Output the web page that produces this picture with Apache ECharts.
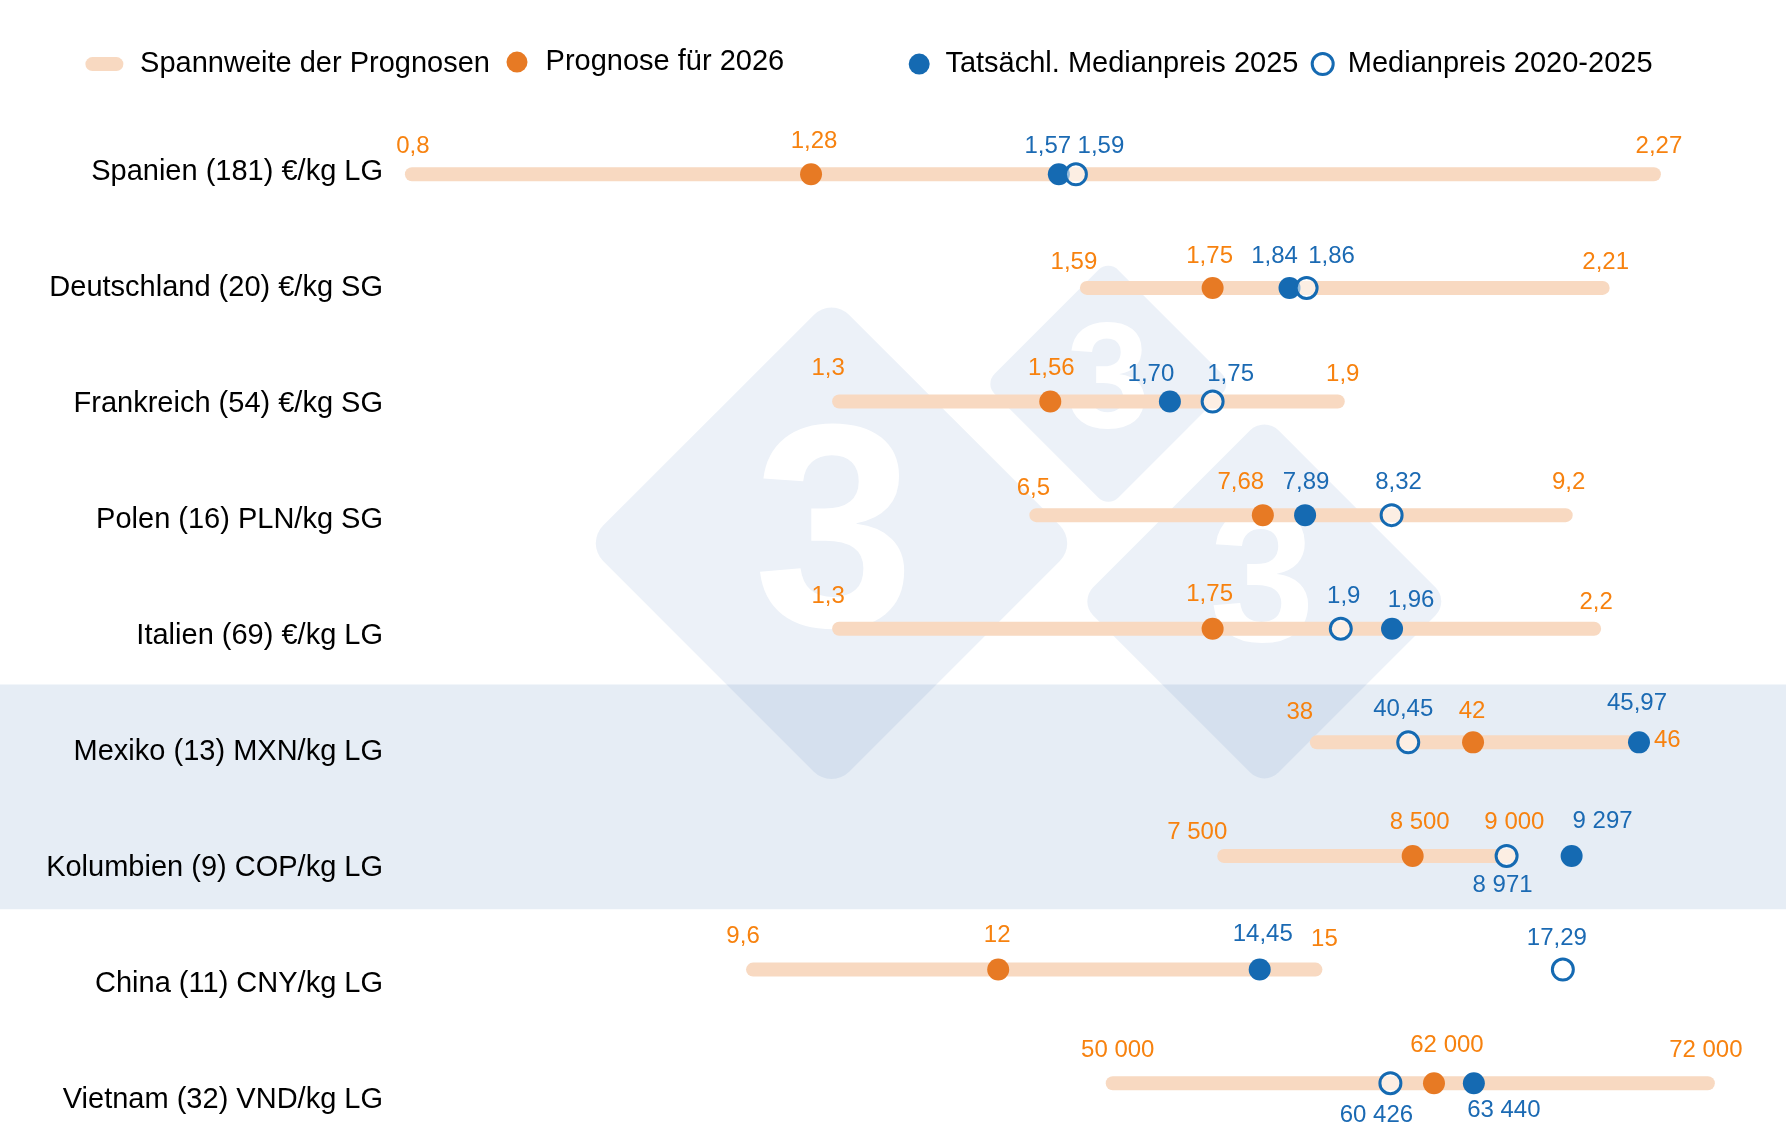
<!DOCTYPE html>
<html>
<head>
<meta charset="utf-8">
<script src="https://cdn.jsdelivr.net/npm/echarts@6/dist/echarts.min.js"></script>
<style>
  html, body { margin: 0; padding: 0; background: #fff; }
  #chart { width: 1786px; height: 1141px; }
</style>
</head>
<body>
<div id="chart"></div>
<script>
// rows (top to bottom)
var rowNames = [
    'Spanien (181) €/kg LG',
    'Deutschland (20) €/kg SG',
    'Frankreich (54) €/kg SG',
    'Polen (16) PLN/kg SG',
    'Italien (69) €/kg LG',
    'Mexiko (13) MXN/kg LG',
    'Kolumbien (9) COP/kg LG',
    'China (11) CNY/kg LG',
    'Vietnam (32) VND/kg LG'
];

// values in local currency
var rangeLow      = [0.8, 1.59, 1.3, 6.5, 1.3, 38, 7500, 9.6, 50000];
var rangeHigh     = [2.27, 2.21, 1.9, 9.2, 2.2, 46, 9000, 15, 72000];
var forecast2026  = [1.28, 1.75, 1.56, 7.68, 1.75, 42, 8500, 12, 62000];
var actual2025    = [1.57, 1.84, 1.70, 7.89, 1.96, 45.97, 9297, 14.45, 63440];
var median2020_25 = [1.59, 1.86, 1.75, 8.32, 1.9, 40.45, 8971, 17.29, 60426];

// printed labels
var rangeLowText  = ['0,8', '1,59', '1,3', '6,5', '1,3', '38', '7 500', '9,6', '50 000'];
var rangeHighText = ['2,27', '2,21', '1,9', '9,2', '2,2', '46', '9 000', '15', '72 000'];
var forecastText  = ['1,28', '1,75', '1,56', '7,68', '1,75', '42', '8 500', '12', '62 000'];
var actualText    = ['1,57', '1,84', '1,70', '7,89', '1,96', '45,97', '9 297', '14,45', '63 440'];
var medianText    = ['1,59', '1,86', '1,75', '8,32', '1,9', '40,45', '8 971', '17,29', '60 426'];

// local currency per EUR (rows share one EUR scale)
var eurRate = [1, 1, 1, 4.246, 1, 20.44, 4284, 8.005, 30860];

// ---- layout / style ----
var eurWindow = [0.7884, 2.4];
// label offsets [dx, dy] per row: low, high, forecast, actual, median
var labelOffsets = [
    [[12, -28], [2, -28], [3, -33], [-11, -28], [25, -28]],
    [[-2, -26], [0, -26], [-3, -32], [-15, -32], [25, -32]],
    [[0, -33], [2, -27], [1, -33], [-19, -27], [18, -27]],
    [[8, -27], [0, -33], [-22, -33], [1, -33], [7, -33]],
    [[0, -32], [-1, -26], [-3, -34], [19, -28], [3, -32]],
    [[-6, -30], [27, -2], [-1, -31], [-2, -39], [-5, -33]],
    [[-16, -24], [2, -34], [7, -34], [31, -35], [-4, 29]],
    [[1, -33], [6, -30], [-1, -34], [3, -35], [-6, -31]],
    [[16, -33], [-5, -33], [13, -38], [30, 27], [-14, 32]]
];

var colRange = '#f8d9c1';
var colOrangeDot = '#e77a24';
var colOrangeText = '#f7820f';
var colBlue = '#156ab2';
var colBlueText = '#1b6ab3';
var fontFam = '"Liberation Sans", Arial, sans-serif';

var xAxes = [];
var series = [];

function renderRange(params, api) {
    var p0 = api.coord([api.value(0), api.value(2)]);
    var p1 = api.coord([api.value(1), api.value(2)]);
    return {
        type: 'rect',
        x: 4,
        shape: { x: p0[0], y: p0[1] - 7, width: p1[0] - p0[0], height: 14, r: 7 },
        style: { fill: colRange }
    };
}

for (var i = 0; i < rowNames.length; i++) {
    xAxes.push({
        type: 'value',
        gridIndex: 0,
        show: false,
        min: eurWindow[0] * eurRate[i],
        max: eurWindow[1] * eurRate[i]
    });
    series.push({
        name: 'Spannweite der Prognosen',
        type: 'custom',
        xAxisIndex: i,
        yAxisIndex: 0,
        renderItem: renderRange,
        encode: { x: [0, 1], y: 2 },
        data: [[rangeLow[i], rangeHigh[i], i]],
        silent: true,
        z: 2,
        itemStyle: { color: colRange }
    });
    series.push({
        name: 'Prognose für 2026',
        type: 'scatter',
        xAxisIndex: i,
        yAxisIndex: 0,
        data: [[forecast2026[i], i]],
        symbolSize: 22,
        silent: true,
        z: 3,
        itemStyle: { color: colOrangeDot, opacity: 1 }
    });
    series.push({
        name: 'Tatsächl. Medianpreis 2025',
        type: 'scatter',
        xAxisIndex: i,
        yAxisIndex: 0,
        data: [[actual2025[i], i]],
        symbolSize: 22,
        silent: true,
        z: 4,
        itemStyle: { color: colBlue, opacity: 1 }
    });
    series.push({
        name: 'Medianpreis 2020-2025',
        type: 'scatter',
        xAxisIndex: i,
        yAxisIndex: 0,
        data: [[median2020_25[i], i]],
        symbolSize: 21,
        silent: true,
        z: 5,
        itemStyle: { color: 'rgba(255,255,255,0.55)', borderColor: colBlue, borderWidth: 3, opacity: 1 }
    });

    var off = labelOffsets[i];
    var lab = function (v, txt, o, c) {
        return {
            value: [v, i],
            label: { show: true, position: 'inside', formatter: txt, offset: o, color: c }
        };
    };
    series.push({
        type: 'scatter',
        xAxisIndex: i,
        yAxisIndex: 0,
        symbolSize: 1,
        silent: true,
        z: 6,
        itemStyle: { color: 'rgba(0,0,0,0)', opacity: 1 },
        label: { fontSize: 24, fontFamily: fontFam },
        data: [
            lab(rangeLow[i], rangeLowText[i], off[0], colOrangeText),
            lab(rangeHigh[i], rangeHighText[i], off[1], colOrangeText),
            lab(forecast2026[i], forecastText[i], off[2], colOrangeText),
            lab(actual2025[i], actualText[i], off[3], colBlueText),
            lab(median2020_25[i], medianText[i], off[4], colBlueText)
        ]
    });
}
// axis used only for the row names
xAxes.push({ type: 'value', gridIndex: 1, show: false });

function legendBox(left, top, item, w, h, pad) {
    return {
        left: left,
        top: top,
        padding: 0,
        orient: 'horizontal',
        itemWidth: w,
        itemHeight: h,
        selectedMode: false,
        textStyle: { fontSize: 29, color: '#000', fontFamily: fontFam, padding: [0, 0, 0, pad] },
        data: [item]
    };
}

// watermark pieces
function diamond(cx, cy, s, r) {
    return {
        type: 'rect',
        x: cx, y: cy,
        rotation: Math.PI / 4,
        silent: true,
        z: -1,
        shape: { x: -s / 2, y: -s / 2, width: s, height: s, r: r },
        style: { fill: 'rgba(30,90,170,0.085)' }
    };
}
function three(cx, cy, size) {
    return {
        type: 'text',
        x: cx, y: cy,
        silent: true,
        z: 0,
        style: {
            text: '3', fill: '#ffffff', fontSize: size, fontWeight: 'bold',
            fontFamily: fontFam, align: 'center', verticalAlign: 'middle'
        }
    };
}

var myChart = echarts.init(document.getElementById('chart'));
var option = {
    animation: false,
    backgroundColor: '#ffffff',
    grid: [
        { left: 391, right: 18, top: 117.5, height: 1022.5 },
        { left: 391, right: 18, top: 172, height: 928.3 }
    ],
    xAxis: xAxes,
    yAxis: [{
        type: 'category',
        gridIndex: 0,
        data: rowNames,
        inverse: true,
        axisLine: { show: false },
        axisTick: { show: false },
        splitLine: { show: false },
        axisLabel: { show: false }
    }, {
        type: 'category',
        gridIndex: 1,
        data: rowNames,
        inverse: true,
        boundaryGap: false,
        axisLine: { show: false },
        axisTick: { show: false },
        splitLine: { show: false },
        axisLabel: { fontSize: 29, color: '#000', fontFamily: fontFam, margin: 8 }
    }],
    legend: [
        legendBox(85.4, 49.6, { name: 'Spannweite der Prognosen',
            icon: 'path://M7,0 L31,0 A7,7 0 0 1 31,14 L7,14 A7,7 0 0 1 7,0 Z',
            itemStyle: { color: colRange } }, 38, 14, 11.7),
        legendBox(506.5, 47.6, { name: 'Prognose für 2026', icon: 'circle',
            itemStyle: { color: colOrangeDot } }, 21, 21, 13.1),
        legendBox(908.7, 49.6, { name: 'Tatsächl. Medianpreis 2025', icon: 'circle',
            itemStyle: { color: colBlue } }, 21, 21, 10.7),
        legendBox(1310.7, 49.6, { name: 'Medianpreis 2020-2025', icon: 'circle',
            itemStyle: { color: '#fff', borderColor: colBlue, borderWidth: 3 } }, 21, 21, 9.6)
    ],
    graphic: [
        {
            type: 'rect', silent: true, z: -2,
            shape: { x: 0, y: 684.6, width: 1786, height: 224.7 },
            style: { fill: '#e6edf5' }
        },
        diamond(831.5, 543.3, 348, 25),
        diamond(1108.3, 383.8, 175, 14),
        diamond(1264.3, 601.4, 262, 20),
        three(834, 546, 290),
        three(1108, 386, 150),
        three(1262, 589, 190)
    ],
    series: series
};
myChart.setOption(option);
</script>
</body>
</html>
